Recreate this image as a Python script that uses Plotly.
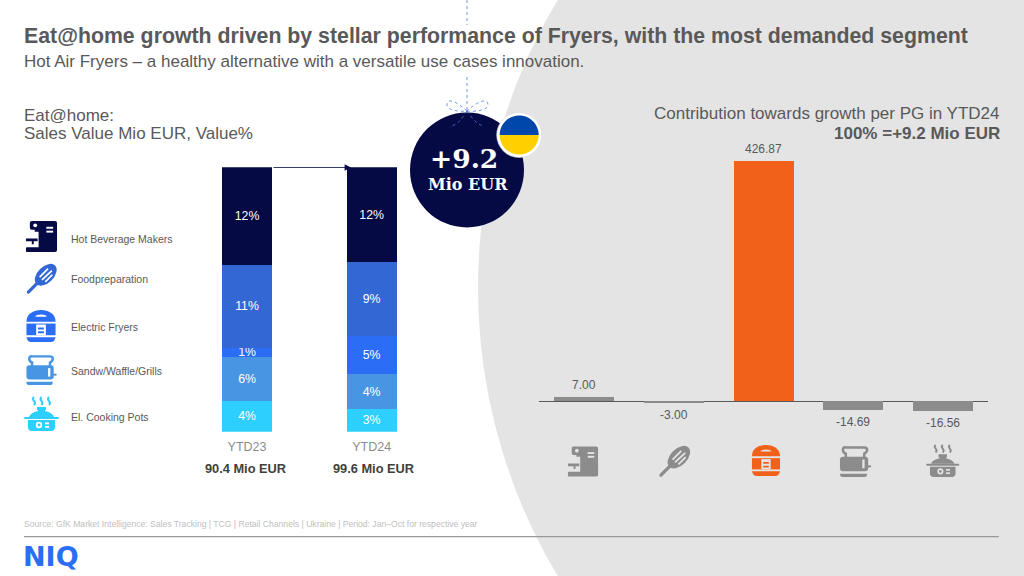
#!/usr/bin/env python3
import base64
import re
import plotly.graph_objects as go

# --- data
periods = ["YTD23", "YTD24"]
period_totals = ["90.4 Mio EUR", "99.6 Mio EUR"]
segments = ["Hot Beverage Makers", "Foodpreparation", "Electric Fryers", "Sandw/Waffle/Grills", "El. Cooking Pots"]
share_ytd23 = [12.6, 10.8, 1.1, 5.7, 4.0]
share_ytd24 = [12.2, 9.5, 4.9, 4.5, 2.9]
labels_ytd23 = ["12%", "11%", "1%", "6%", "4%"]
labels_ytd24 = ["12%", "9%", "5%", "4%", "3%"]
contribution = [7.00, -3.00, 426.87, -14.69, -16.56]

NAVY = "#050a45"
SEG_COLORS = [NAVY, "#3367d3", "#2c6df5", "#4896e3", "#2dcfff"]
GREY_BG = "#e4e4e4"
GREY_BAR = "#8c8c8c"
ORANGE = "#f26119"
TEXT = "#595959"
FONT = "Liberation Sans"


# slide is laid out in pixels, paper coords are 0..1
def px(x):
    return x / 1024


def py(y):
    return 1 - y / 576


def path(d):
    # scale "x y" pairs of an svg path from pixels to paper
    def conv(m):
        return f"{px(float(m.group(1))):.5f},{py(float(m.group(2))):.5f}"
    return re.sub(r"(-?[\d.]+)[ ,](-?[\d.]+)", conv, d)


def icon_coffee(c, cut):
    return f"""<path fill='{c}' d='M6 0H30Q32 0 32 2V30Q32 32 30 32H1Q0 32 0 31V28Q0 27 1 27H13V11H9V9H6Q4 9 4 7V2Q4 0 6 0Z'/>
<circle cx='9.5' cy='4.5' r='2' fill='{cut}'/>
<rect x='21' y='6' width='7' height='2' fill='{cut}'/><rect x='21' y='10' width='7' height='2' fill='{cut}'/>
<path fill='{c}' d='M0 18H12V21H8V24H6V21H0Z'/>"""


def icon_whisk(c, cut):
    return f"""<path stroke='{c}' stroke-width='3.4' stroke-linecap='round' d='M2 30L11 21'/>
<ellipse cx='20.5' cy='11.5' rx='14' ry='8.5' transform='rotate(-45 20.5 11.5)' fill='{c}'/>
<path stroke='{cut}' stroke-width='1.8' fill='none' d='M14 14L23 5M16.5 17L27 7M20 19L27.5 11.5'/>"""


def icon_cooker(c, cut):
    return f"""<path fill='{c}' d='M0 12C0 4 7 0 15 0S30 4 30 12Z'/>
<path fill='{cut}' d='M9 7C10 4 20 4 21 7Z'/>
<path fill='{c}' d='M0 14H30V26H0Z'/>
<path fill='{cut}' d='M10 15H20V26H10Z'/>
<path fill='{c}' d='M12 18H18V20H12ZM12 22H18V24H12Z'/>
<path fill='{c}' d='M0 28H30Q29 33 25 33H5Q1 33 0 28Z'/>"""


def icon_toaster(c, cut):
    return f"""<path fill='none' stroke='{c}' stroke-width='2.6' d='M6 13V8Q3 7 3 4T6 1.5H25Q28 1.5 28 4T25 8V13'/>
<rect x='0' y='11' width='29' height='15' rx='3' fill='{c}'/>
<rect x='23' y='14' width='2.4' height='9' fill='{cut}'/>
<rect x='28' y='20' width='4' height='2' fill='{c}'/>
<path fill='{c}' d='M0 28.5H28V29Q28 32 25 32H3Q0 32 0 29Z'/>"""


def icon_pot(c, cut):
    return f"""<path fill='none' stroke='{c}' stroke-width='2' d='M10 1Q8 3 10 5T10 9M17.5 1Q15.5 3 17.5 5T17.5 9M25 1Q23 3 25 5T25 9'/>
<path fill='{c}' d='M13 11H22V14H21V15C26 16 29 18 30 21H5C6 18 9 16 14 15V14H13Z'/>
<rect x='0' y='21' width='35' height='2' rx='1' fill='{c}'/>
<path fill='{c}' d='M4 24H31V31Q31 35 27 35H8Q4 35 4 31Z'/>
<circle cx='15' cy='29' r='3.2' fill='{cut}'/><circle cx='15' cy='29' r='1.4' fill='{c}'/>
<rect x='21' y='26.5' width='4' height='1.8' fill='{cut}'/><rect x='21' y='30' width='4' height='1.8' fill='{cut}'/>"""


def icon_image(draw, size, color, cut, x, y, w, h):
    svg = (f"<svg xmlns='http://www.w3.org/2000/svg' viewBox='-1 -1 {size[0] + 2} {size[1] + 2}' "
           f"width='{(w + 2) * 4}' height='{(h + 2) * 4}'>{draw(color, cut)}</svg>")
    src = "data:image/svg+xml;base64," + base64.b64encode(svg.encode()).decode()
    return dict(source=src, xref="paper", yref="paper", x=px(x - 1), y=py(y - 1), sizex=(w + 2) / 1024,
                sizey=(h + 2) / 576, xanchor="left", yanchor="top", sizing="stretch", layer="above")


fig = go.Figure()

# both bars fill the same height, so each is scaled to its own total
total23 = sum(share_ytd23)
total24 = sum(share_ytd24)

# stacked shares, drawn bottom up so the first segment ends on top
for i in reversed(range(len(segments))):
    fig.add_trace(go.Bar(
        x=periods, y=[share_ytd23[i] / total23 * 100, share_ytd24[i] / total24 * 100],
        text=[labels_ytd23[i], labels_ytd24[i]],
        marker=dict(color=SEG_COLORS[i], line=dict(width=0)), name=segments[i],
        textposition="inside", insidetextanchor="middle", textangle=0, constraintext="none",
        textfont=dict(color="white", size=12.3, family=FONT),
        xaxis="x", yaxis="y", showlegend=False, hoverinfo="skip",
    ))

bar_colors = [ORANGE if v == max(contribution) else GREY_BAR for v in contribution]
fig.add_trace(go.Bar(
    x=segments, y=contribution, marker=dict(color=bar_colors, line=dict(width=0)), width=60 / 89.8,
    xaxis="x2", yaxis="y2", showlegend=False, hoverinfo="skip",
))

annotations = []


def note(text, x, y, size=17, color=TEXT, anchor="left", family=FONT):
    annotations.append(dict(text=text, x=px(x), y=py(y), xref="paper", yref="paper", showarrow=False,
                            xanchor=anchor, yanchor="middle", align=anchor, borderpad=0, borderwidth=0,
                            font=dict(size=size, color=color, family=family)))


note("<b>Eat@home growth driven by stellar performance of Fryers, with the most demanded segment</b>", 24, 36, size=21.3)
note("Hot Air Fryers – a healthy alternative with a versatile use cases innovation.", 24, 62)
note("Eat@home:", 24, 115)
note("Sales Value Mio EUR, Value%", 24, 134)
note("Contribution towards growth per PG in YTD24", 999.5, 113, anchor="right")
note("<b>100% =+9.2 Mio EUR</b>", 999.5, 133, anchor="right")
note("Source: GfK Market Intelligence: Sales Tracking | TCG | Retail Channels | Ukraine | Period: Jan–Oct for respective year",
     24, 524, size=8.6, color="#c0c0c0")
note("<b>NIQ</b>", 23, 556, size=27, color="#2c6df5", family="DejaVu Sans")
note("<b>+9.2</b>", 464, 158, size=26.5, color="white", anchor="center", family="DejaVu Serif")
note("<b>Mio EUR</b>", 467.5, 184, size=16, color="white", anchor="center", family="DejaVu Serif")

for name, y in zip(segments, [239, 279, 326.5, 371, 417]):
    note(name, 71, y, size=10.5)

for period, total, nudge in zip(periods, period_totals, [-2, 1.5]):
    annotations.append(dict(text=f"<b>{total}</b>", x=period, y=0, xref="x", yref="y", yshift=-37, xshift=nudge,
                            showarrow=False, font=dict(size=12.8, color="#404040", family=FONT)))

for name, v in zip(segments, contribution):
    annotations.append(dict(text=f"{v:.2f}", x=name, y=v, xref="x2", yref="y2", showarrow=False,
                            yanchor="bottom" if v > 0 else "top", yshift=3 if v > 0 else -3,
                            font=dict(size=12, color=TEXT, family=FONT)))

# thin arrow between the two bars
annotations.append(dict(x=px(351), y=py(167.5), xref="paper", yref="paper", ax=-79, ay=0, axref="pixel", ayref="pixel",
                        text="", showarrow=True, arrowhead=2, arrowsize=1.6, arrowwidth=0.8, arrowcolor=NAVY))

# background, footer rule, ornament
DOT = "#6f9be6"
shapes = [
    dict(type="circle", xref="paper", yref="paper", x0=px(478), x1=px(1598), y0=py(848), y1=py(-272),
         fillcolor=GREY_BG, line=dict(width=0), layer="below"),
    dict(type="line", xref="paper", yref="paper", x0=px(24), x1=px(999), y0=py(536.7), y1=py(536.7),
         line=dict(color="#999999", width=1.2), layer="above"),
    dict(type="line", xref="paper", yref="paper", x0=px(467), x1=px(467), y0=py(0), y1=py(25),
         line=dict(color=DOT, width=1, dash="dot")),
    dict(type="line", xref="paper", yref="paper", x0=px(467), x1=px(467), y0=py(77), y1=py(112),
         line=dict(color=DOT, width=1, dash="dot")),
    dict(type="circle", xref="paper", yref="paper", x0=px(410), x1=px(524), y0=py(227.5), y1=py(112.5),
         fillcolor=NAVY, line=dict(width=0)),
    dict(type="path", xref="paper", yref="paper", line=dict(color=DOT, width=1, dash="dot"),
         path=path("M467 111 C455 100 447 98 447 105 C447 110 458 112 467 111 C476 112 488 110 488 105 C488 98 479 100 467 111")),
    dict(type="path", xref="paper", yref="paper", line=dict(color="#3f63c4", width=1, dash="dot"),
         path=path("M467 111 C462 118 458 125 451 126 M467 111 C472 118 477 125 484 126")),
    dict(type="circle", xref="paper", yref="paper", x0=px(496.7), x1=px(541.7), y0=py(157.5), y1=py(112.5),
         fillcolor="white", line=dict(color="#d8d8d8", width=0.6)),
    dict(type="path", xref="paper", yref="paper", fillcolor="#ffd000", line=dict(width=0),
         path=path("M499.7 135 L538.7 135 C538.7 145.8 529.8 154.5 519.2 154.5 C508.4 154.5 499.7 145.8 499.7 135 Z")),
    dict(type="path", xref="paper", yref="paper", fillcolor="#0047ab", line=dict(width=0),
         path=path("M499.7 135 L538.7 135 C538.7 124.2 529.8 115.5 519.2 115.5 C508.4 115.5 499.7 124.2 499.7 135 Z")),
]

# icons: left key in segment colours, right row grey with the winner in orange
draws = [icon_coffee, icon_whisk, icon_cooker, icon_toaster, icon_pot]
sizes = [(32, 32), (32, 32), (30, 33), (32, 32), (35, 35)]
left_boxes = [(26, 221, 31, 31), (26, 264, 31, 30), (26, 310, 30, 32), (26, 355, 31, 30), (24, 396, 35, 35)]
right_boxes = [(568, 446, 30, 31), (659, 446, 31, 31), (752, 444, 28, 33), (840, 446, 31, 31), (925.5, 444, 34.5, 33)]
images = []
for i, draw in enumerate(draws):
    images.append(icon_image(draw, sizes[i], SEG_COLORS[i], "white", *left_boxes[i]))
    images.append(icon_image(draw, sizes[i], bar_colors[i], GREY_BG, *right_boxes[i]))

fig.update_layout(
    width=1024, height=576, margin=dict(l=0, r=0, t=0, b=0),
    paper_bgcolor="white", plot_bgcolor="rgba(0,0,0,0)",
    barmode="stack", bargap=0.6,
    font=dict(family=FONT, color=TEXT),
    shapes=shapes, annotations=annotations, images=images,
    xaxis=dict(domain=[px(184.75), px(434)], anchor="y", showline=False, ticks="", showgrid=False,
               ticklabelstandoff=6, tickfont=dict(size=12.5, color="#8c8c8c", family=FONT)),
    yaxis=dict(domain=[py(431.7), py(167.3)], anchor="x", range=[0, 100], visible=False, showgrid=False),
    xaxis2=dict(domain=[px(539), px(988)], anchor="y2", visible=False, showgrid=False),
    yaxis2=dict(domain=[py(440), py(130)], anchor="x2", range=[-68.75, 482], showticklabels=False, ticks="",
                showgrid=False, showline=False, zeroline=True, zerolinecolor=TEXT, zerolinewidth=1),
)

fig.write_html("out.html", config=dict(displayModeBar=False), post_script="document.body.style.margin='0'")
